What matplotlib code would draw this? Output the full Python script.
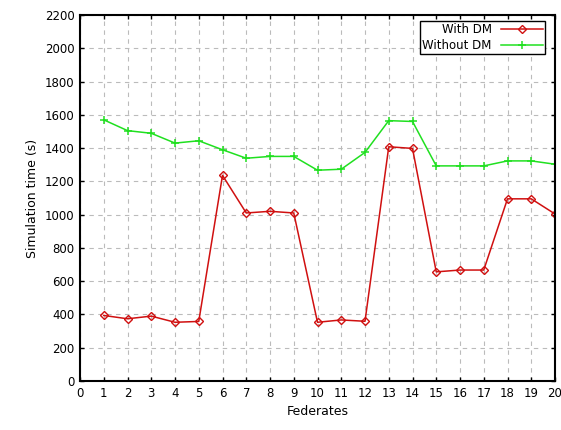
import matplotlib
matplotlib.use("Agg")
import matplotlib.pyplot as plt

federates = list(range(1, 21))
with_dm = [394, 374, 390, 353, 358, 1236, 1010, 1020, 1010, 353,
           367, 359, 1408, 1398, 656, 667, 667, 1095, 1095, 1004]
without_dm = [1570, 1505, 1489, 1430, 1444, 1390, 1339, 1350, 1350, 1267,
              1273, 1374, 1565, 1560, 1293, 1293, 1293, 1323, 1323, 1303]
xticks = list(range(0, 21))
yticks = list(range(0, 2201, 200))

plt.rcParams['font.family'] = ['DejaVu Sans']
fig = plt.figure(figsize=(5.61, 4.30), dpi=100)
ax = fig.add_axes([80/561, 49/430, 475/561, 366/430])

ax.plot(federates, with_dm, color='#d01010', lw=1.1, marker='D', ms=4.5,
        mfc='none', mec='#d01010', mew=1.0, label='With DM')
ax.plot(federates, without_dm, color='#20e020', lw=1.1, marker='+', ms=6,
        mew=1.1, label='Without DM')

ax.set_xlim(0, 20)
ax.set_ylim(0, 2200)
ax.set_xticks(xticks)
ax.set_yticks(yticks)
ax.tick_params(direction='in', length=3, width=1, labelsize=8.5, pad=4,
               top=True, right=True)
ax.grid(True, color='#bbbbbb', ls=(0, (4, 4)), lw=0.8)
for s in ax.spines.values():
    s.set_linewidth(1.5)
ax.set_xlabel('Federates', fontsize=9)
ax.set_ylabel('Simulation time (s)', fontsize=9)

leg = ax.legend(loc='upper right', bbox_to_anchor=(545/561, 409/430),
                bbox_transform=fig.transFigure, markerfirst=False,
                fancybox=False, framealpha=1, edgecolor='black',
                fontsize=8.5, borderpad=0.2, labelspacing=0.2,
                handlelength=3.5, borderaxespad=0)
leg.get_frame().set_linewidth(1.0)
for t in leg.get_texts():
    t.set_ha('right')

fig.savefig('out.png', dpi=100)
